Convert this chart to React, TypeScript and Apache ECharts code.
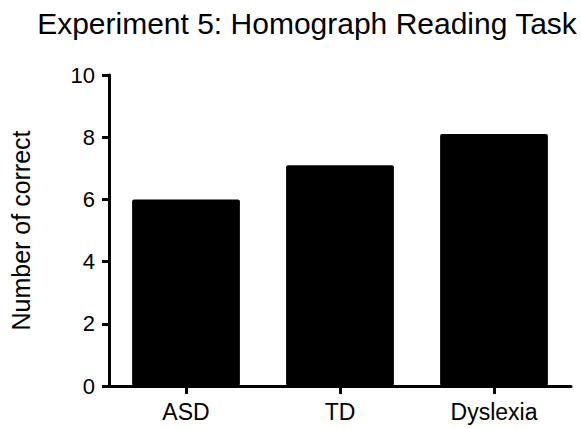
import React, { useEffect, useRef } from "react";
import * as echarts from "echarts";

const categories = ["ASD", "TD", "Dyslexia"];
const values = [6.0, 7.1, 8.1];
const yTicks = [0, 2, 4, 6, 8, 10];

export default function App() {
  const ref = useRef<HTMLDivElement>(null);
  useEffect(() => {
    document.body.style.margin = "0";
    const chart = echarts.init(ref.current!, null, { renderer: "svg" });
    const font = "'Liberation Sans', Arial, Helvetica, sans-serif";
    chart.setOption({
      animation: false,
      backgroundColor: "#ffffff",
      title: {
        text: "Experiment 5: Homograph Reading Task",
        left: 302,
        textAlign: "center",
        top: 3,
        textStyle: { fontFamily: font, fontSize: 30, fontWeight: "normal", color: "#000" },
      },
      grid: { left: 108, right: 10, top: 75, bottom: 42 },
      xAxis: {
        type: "category",
        data: categories,
        axisLine: { lineStyle: { color: "#000", width: 3 } },
        axisTick: { show: true, alignWithLabel: true, length: 8, lineStyle: { color: "#000", width: 3 } },
        axisLabel: { color: "#000", fontFamily: font, fontSize: 23, margin: 14 },
      },
      yAxis: {
        type: "value",
        min: yTicks[0],
        max: yTicks[yTicks.length - 1],
        interval: 2,
        name: "Number of correct",
        nameLocation: "middle",
        nameGap: 76,
        nameTextStyle: { color: "#000", fontFamily: font, fontSize: 25 },
        axisLine: { show: true, lineStyle: { color: "#000", width: 3 } },
        axisTick: { show: true, length: 7, lineStyle: { color: "#000", width: 3 } },
        axisLabel: { color: "#000", fontFamily: font, fontSize: 22, margin: 14 },
        splitLine: { show: false },
      },
      series: [
        {
          type: "bar",
          data: values,
          barWidth: "70%",
          itemStyle: { color: "#000", borderRadius: 2 },
        },
      ],
    });
    return () => chart.dispose();
  }, []);
  return <div ref={ref} style={{ width: 581, height: 428 }} />;
}
